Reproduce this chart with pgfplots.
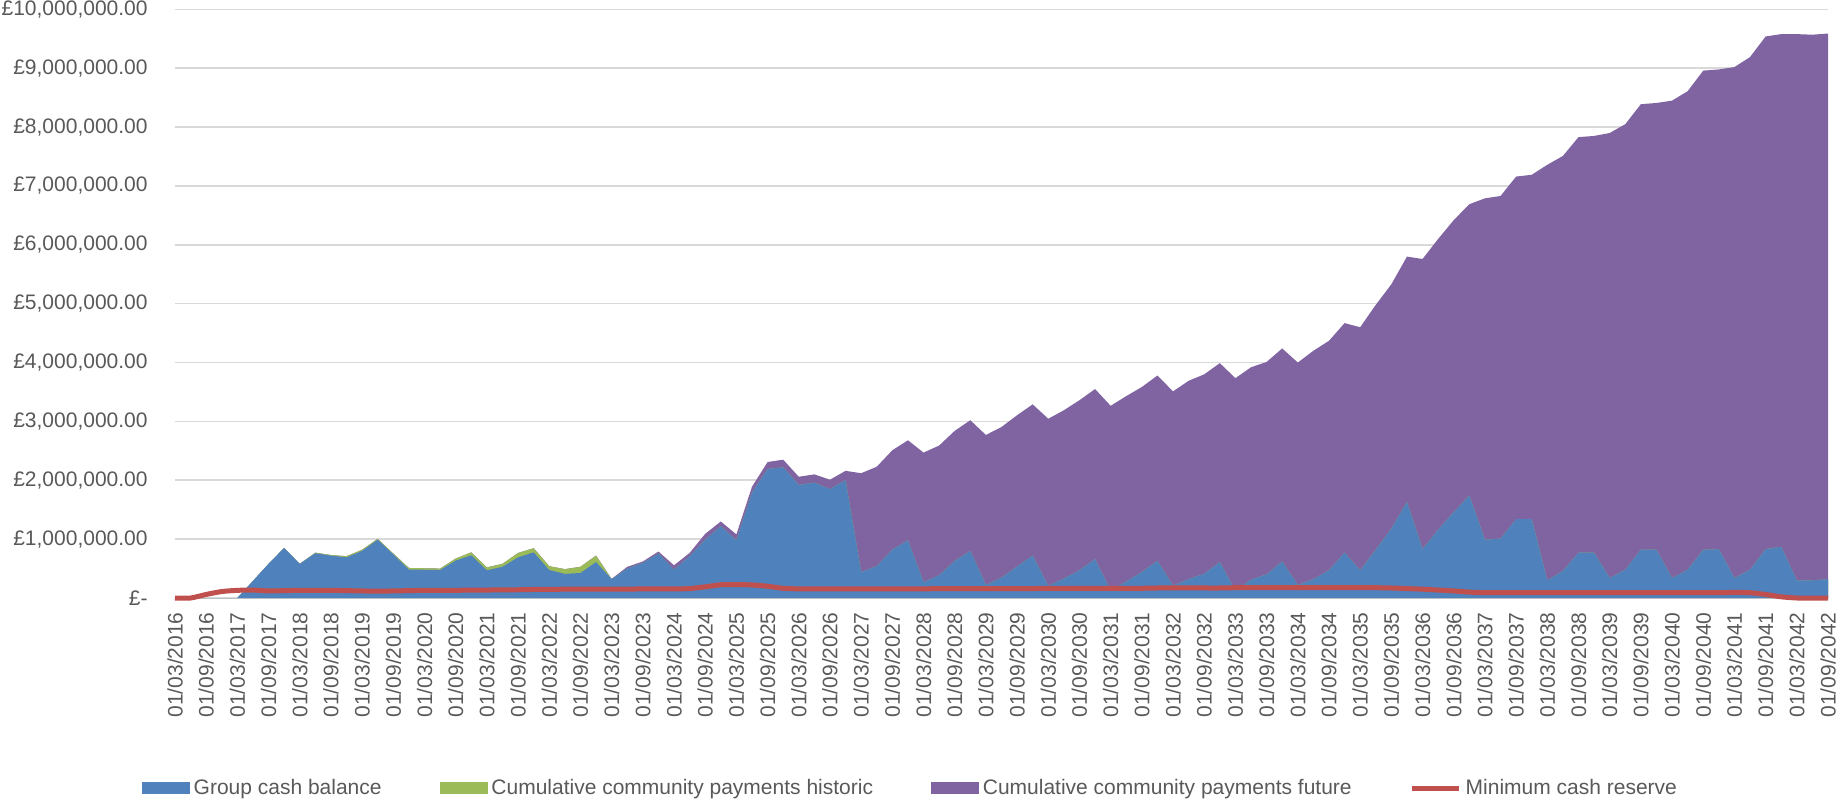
\documentclass[border=0pt]{standalone}
\usepackage{fontspec}
\setmainfont{Liberation Sans}
\usepackage{pgfplots}
\usepackage{pgfplotstable}
\pgfplotsset{compat=1.18}
\definecolor{cblue}{HTML}{4F81BD}
\definecolor{cgreen}{HTML}{9BBB59}
\definecolor{cpurple}{HTML}{8064A2}
\definecolor{cred}{HTML}{C0504D}
\definecolor{ctext}{HTML}{595959}
\definecolor{cgrid}{HTML}{D9D9D9}

% values in millions of pounds; x = quarter index from 01/03/2016
\pgfplotstableread{
x cash hist fut res
0 0 0 0 0
1 0 0 0 0
2 0 0 0 0.06
3 0 0 0 0.11
4 0 0 0 0.13
5 0.29 0 0 0.135
6 0.58 0 0 0.12
7 0.85 0 0 0.125
8 0.58 0 0 0.13
9 0.76 0.01 0 0.13
10 0.72 0.01 0 0.13
11 0.69 0.02 0 0.125
12 0.80 0.02 0 0.12
13 0.99 0.015 0 0.115
14 0.74 0.015 0 0.12
15 0.48 0.03 0 0.125
16 0.48 0.025 0 0.13
17 0.475 0.025 0 0.13
18 0.635 0.035 0 0.13
19 0.725 0.05 0 0.135
20 0.47 0.05 0 0.135
21 0.53 0.05 0 0.14
22 0.69 0.075 0 0.14
23 0.775 0.07 0 0.145
24 0.475 0.065 0 0.145
25 0.41 0.08 0 0.15
26 0.425 0.105 0 0.15
27 0.61 0.11 0 0.15
28 0.32 0 0.005 0.15
29 0.50 0 0.03 0.15
30 0.595 0 0.025 0.155
31 0.755 0 0.035 0.155
32 0.48 0 0.075 0.155
33 0.71 0 0.055 0.16
34 0.99 0 0.10 0.19
35 1.22 0 0.08 0.225
36 0.98 0 0.10 0.228
37 1.79 0 0.10 0.222
38 2.19 0 0.12 0.20
39 2.22 0 0.13 0.165
40 1.92 0 0.14 0.155
41 1.96 0 0.14 0.155
42 1.85 0 0.16 0.155
43 2.00 0 0.16 0.155
44 0.44 0 1.68 0.155
45 0.54 0 1.69 0.155
46 0.82 0 1.69 0.155
47 0.98 0 1.70 0.155
48 0.27 0 2.20 0.155
49 0.385 0 2.205 0.16
50 0.63 0 2.21 0.16
51 0.80 0 2.22 0.16
52 0.22 0 2.55 0.16
53 0.345 0 2.56 0.16
54 0.535 0 2.57 0.16
55 0.72 0 2.57 0.16
56 0.205 0 2.84 0.165
57 0.33 0 2.86 0.165
58 0.47 0 2.89 0.165
59 0.66 0 2.89 0.165
60 0.13 0 3.135 0.165
61 0.28 0 3.15 0.165
62 0.44 0 3.145 0.165
63 0.63 0 3.15 0.17
64 0.21 0 3.30 0.17
65 0.32 0 3.37 0.17
66 0.41 0 3.39 0.17
67 0.61 0 3.38 0.17
68 0.12 0 3.615 0.175
69 0.31 0 3.61 0.175
70 0.40 0 3.61 0.175
71 0.62 0 3.62 0.175
72 0.22 0 3.78 0.175
73 0.32 0 3.88 0.175
74 0.47 0 3.90 0.175
75 0.77 0 3.90 0.175
76 0.47 0 4.13 0.175
77 0.82 0 4.16 0.175
78 1.18 0 4.15 0.17
79 1.63 0 4.17 0.16
80 0.83 0 4.93 0.15
81 1.16 0 4.94 0.135
82 1.46 0 4.96 0.12
83 1.74 0 4.95 0.10
84 0.99 0 5.80 0.09
85 1.01 0 5.82 0.09
86 1.34 0 5.82 0.09
87 1.34 0 5.85 0.09
88 0.30 0 7.06 0.09
89 0.46 0 7.05 0.09
90 0.77 0 7.06 0.09
91 0.77 0 7.08 0.09
92 0.34 0 7.56 0.09
93 0.48 0 7.57 0.09
94 0.82 0 7.57 0.09
95 0.82 0 7.59 0.09
96 0.34 0 8.11 0.09
97 0.48 0 8.13 0.09
98 0.82 0 8.14 0.09
99 0.83 0 8.15 0.09
100 0.34 0 8.68 0.095
101 0.48 0 8.71 0.09
102 0.83 0 8.71 0.06
103 0.87 0 8.71 0.02
104 0.30 0 9.28 0.0
105 0.30 0 9.27 0.0
106 0.32 0 9.27 0.0
}\datatable

\begin{document}
\begin{tikzpicture}
\path[use as bounding box] (-87.5pt,-102.5pt) rectangle (834pt,299pt);
\begin{axis}[
  scale only axis, width=826.5pt, height=294.3pt,
  at={(0pt,0pt)}, anchor=south west,
  clip=false,
  xmin=0, xmax=106, ymin=0, ymax=10,
  xtick={0,2,...,106},
  xticklabels={01/03/2016,01/09/2016,01/03/2017,01/09/2017,01/03/2018,01/09/2018,01/03/2019,01/09/2019,01/03/2020,01/09/2020,01/03/2021,01/09/2021,01/03/2022,01/09/2022,01/03/2023,01/09/2023,01/03/2024,01/09/2024,01/03/2025,01/09/2025,01/03/2026,01/09/2026,01/03/2027,01/09/2027,01/03/2028,01/09/2028,01/03/2029,01/09/2029,01/03/2030,01/09/2030,01/03/2031,01/09/2031,01/03/2032,01/09/2032,01/03/2033,01/09/2033,01/03/2034,01/09/2034,01/03/2035,01/09/2035,01/03/2036,01/09/2036,01/03/2037,01/09/2037,01/03/2038,01/09/2038,01/03/2039,01/09/2039,01/03/2040,01/09/2040,01/03/2041,01/09/2041,01/03/2042,01/09/2042},
  ytick={0,1,...,10},
  yticklabels={{£-},{£1,000,000.00},{£2,000,000.00},{£3,000,000.00},{£4,000,000.00},{£5,000,000.00},{£6,000,000.00},{£7,000,000.00},{£8,000,000.00},{£9,000,000.00},{£10,000,000.00}},
  axis line style={draw=none},
  major tick length=0pt,
  ymajorgrids, grid style={cgrid, line width=0.8pt},
  tick label style={font=\fontsize{10.5pt}{12pt}\selectfont, text=ctext, inner sep=0pt},
  yticklabel style={anchor=east},
  yticklabel shift=13.5pt,
  xticklabel style={rotate=90, anchor=east},
  xticklabel shift=7pt,
  legend columns=4,
  legend cell align=left,
  legend style={
    at={(0.4455,-0.3228)}, anchor=center,
    draw=none, fill=none,
    font=\fontsize{10.5pt}{12pt}\selectfont, text=ctext,
    /tikz/every even column/.append style={column sep=27pt},
  },
]
\addlegendimage{legend image code/.code={\fill[cblue] (0pt,-2.75pt) rectangle (23.5pt,2.75pt);}}
\addlegendentry{Group cash balance}
\addlegendimage{legend image code/.code={\fill[cgreen] (0pt,-2.75pt) rectangle (23.5pt,2.75pt);}}
\addlegendentry{Cumulative community payments historic}
\addlegendimage{legend image code/.code={\fill[cpurple] (0pt,-2.75pt) rectangle (23.5pt,2.75pt);}}
\addlegendentry{Cumulative community payments future}
\addlegendimage{legend image code/.code={\draw[cred, line width=2.5pt] (0pt,0pt) -- (23.5pt,0pt);}}
\addlegendentry{Minimum cash reserve}

\addplot[fill=cpurple, draw=none, forget plot] table[x=x, y expr=\thisrow{cash}+\thisrow{hist}+\thisrow{fut}] {\datatable} \closedcycle;
\addplot[fill=cgreen, draw=none, forget plot] table[x=x, y expr=\thisrow{cash}+\thisrow{hist}] {\datatable} \closedcycle;
\addplot[fill=cblue, draw=none, forget plot] table[x=x, y=cash] {\datatable} \closedcycle;
\addplot[cred, line width=2.5pt, smooth, tension=0.4, forget plot] table[x=x, y=res] {\datatable};
\end{axis}
\end{tikzpicture}
\end{document}
